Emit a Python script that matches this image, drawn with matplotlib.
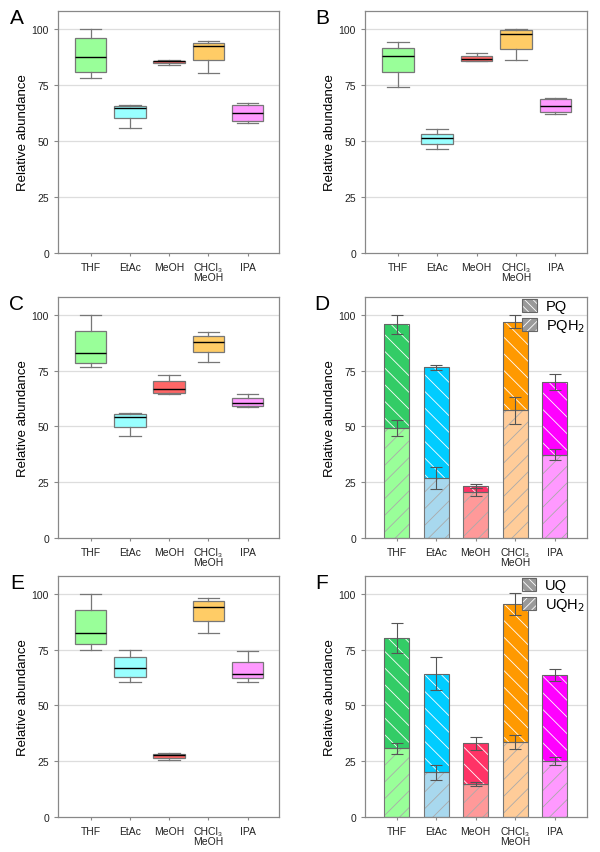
import matplotlib
matplotlib.use("Agg")
import matplotlib.pyplot as plt
from matplotlib.patches import Patch
import numpy as np

plt.rcParams['font.family'] = ['Liberation Sans', 'DejaVu Sans']
plt.rcParams['hatch.linewidth'] = 0.6

categories = ['THF', 'EtAc', 'MeOH', 'CHCl₃\nMeOH', 'IPA']
box_colors = ['#99FF99', '#99FFFF', '#FF6666', '#FFCC66', '#FF99FF']
dark_colors = ['#33CC66', '#00CCFF', '#FF3366', '#FF9900', '#FF00FF']
light_colors = ['#99FF99', '#A8D8EE', '#FF9999', '#FFCC99', '#FF99FF']

# box stats: whisker low, q1, median, q3, whisker high
A_whislo = [78.1, 55.8, 83.9, 80.2, 57.9]
A_q1 = [80.7, 60.3, 84.8, 86.2, 58.8]
A_med = [87.4, 64.6, 85.6, 92.3, 62.5]
A_q3 = [95.8, 65.5, 85.9, 93.6, 66.2]
A_whishi = [100.0, 66.2, 86.0, 94.8, 67.1]

B_whislo = [74.0, 46.3, 85.9, 86.0, 61.9]
B_q1 = [80.7, 48.5, 85.9, 91.1, 62.8]
B_med = [87.8, 51.2, 86.5, 97.8, 65.8]
B_q3 = [91.4, 53.1, 87.9, 99.3, 68.8]
B_whishi = [94.3, 55.2, 89.1, 100.0, 69.3]

C_whislo = [76.5, 45.8, 64.5, 78.7, 58.7]
C_q1 = [78.2, 49.6, 65.0, 83.2, 59.0]
C_med = [82.7, 54.1, 66.6, 87.9, 60.4]
C_q3 = [92.8, 55.4, 70.3, 90.3, 62.6]
C_whishi = [100.0, 55.9, 73.2, 92.5, 64.7]

E_whislo = [75.0, 60.7, 25.4, 82.6, 60.7]
E_q1 = [77.4, 62.9, 26.3, 87.9, 62.4]
E_med = [82.6, 66.8, 27.7, 94.3, 64.0]
E_q3 = [92.7, 71.7, 28.4, 96.7, 69.5]
E_whishi = [100.0, 75.0, 28.7, 98.2, 74.6]

# stacked bars: reduced (lower) and oxidized (upper)
D_PQH2 = [49.3, 26.8, 20.6, 57.2, 37.4]
D_PQH2_err = [3.5, 4.9, 1.9, 5.9, 2.5]
D_PQ = [46.5, 49.7, 2.6, 39.8, 32.5]
D_PQ_err = [4.3, 1.2, 0.8, 3.0, 3.5]

F_UQH2 = [30.8, 20.1, 14.9, 33.5, 25.0]
F_UQH2_err = [2.4, 3.4, 1.0, 3.1, 1.7]
F_UQ = [49.3, 44.2, 18.1, 62.0, 38.5]
F_UQ_err = [6.8, 7.5, 3.0, 4.8, 2.6]

yticks = [0, 25, 50, 75, 100]

fig = plt.figure(figsize=(6.0, 8.53), dpi=100)

W = 600.0
H = 853.0
def axes_at(l, t, r, b):
    return fig.add_axes([l / W, 1 - b / H, (r - l) / W, (b - t) / H])

def style(ax):
    ax.set_ylim(0, 108)
    ax.set_xlim(0.17, 5.8)
    ax.set_yticks(yticks)
    ax.set_xticks(range(1, 6))
    ax.set_xticklabels(categories, fontsize=7.5, color='#222222', linespacing=1.0)
    ax.tick_params(axis='y', labelsize=7.5, labelcolor='#222222', color='#888888', length=3, width=0.8)
    ax.tick_params(axis='x', color='#888888', length=2.5, width=0.8, pad=4)
    for s in ax.spines.values():
        s.set_color('#888888')
        s.set_linewidth(0.9)
    for v in [25, 50, 75, 100]:
        ax.axhline(v, color='#DDDDDD', lw=0.9, zorder=0)
    ax.set_ylabel('Relative abundance', fontsize=9.5, labelpad=2)

def boxpanel(ax, wl, q1, med, q3, wh):
    stats = []
    for i in range(5):
        stats.append(dict(whislo=wl[i], q1=q1[i], med=med[i], q3=q3[i], whishi=wh[i], fliers=[]))
    bp = ax.bxp(stats, positions=range(1, 6), widths=0.8, capwidths=0.55, patch_artist=True,
                showfliers=False,
                boxprops=dict(edgecolor='#777777', linewidth=0.9),
                whiskerprops=dict(color='#777777', linewidth=0.9),
                capprops=dict(color='#777777', linewidth=0.9),
                medianprops=dict(color='black', linewidth=1.0), zorder=2)
    for p, c in zip(bp['boxes'], box_colors):
        p.set_facecolor(c)
    style(ax)

def barpanel(ax, lower, lower_err, upper, upper_err, labels):
    x = np.arange(1, 6)
    w = 0.63
    ax.bar(x, lower, w, color=light_colors, edgecolor='#AAAAAA', hatch='//', linewidth=0, zorder=2)
    ax.bar(x, lower, w, fill=False, edgecolor='#777777', linewidth=0.8, zorder=3)
    ax.bar(x, upper, w, bottom=lower, color=dark_colors, edgecolor='#FFFFFF', hatch='\\\\', linewidth=0, zorder=2)
    ax.bar(x, upper, w, bottom=lower, fill=False, edgecolor='#666666', linewidth=0.8, zorder=3)
    tot = np.array(lower) + np.array(upper)
    ax.errorbar(x, lower, yerr=lower_err, fmt='none', ecolor='#555555', elinewidth=0.8, capsize=4, capthick=0.8, zorder=4)
    ax.errorbar(x, tot, yerr=upper_err, fmt='none', ecolor='#555555', elinewidth=0.8, capsize=4, capthick=0.8, zorder=4)
    style(ax)
    ax.set_xlim(0.2, 5.82)
    h1 = (Patch(facecolor='#999999', edgecolor='#FFFFFF', hatch='\\\\\\\\', linewidth=0),
          Patch(fill=False, edgecolor='#666666', linewidth=0.8))
    h2 = (Patch(facecolor='#999999', edgecolor='#FFFFFF', hatch='////', linewidth=0),
          Patch(fill=False, edgecolor='#666666', linewidth=0.8))
    ax.legend([h1, h2], labels, loc='upper right', frameon=False, fontsize=10.5,
              handlelength=1.0, handleheight=1.0, handletextpad=0.6, labelspacing=0.3,
              borderaxespad=0.2, bbox_to_anchor=(1.03, 1.03))

axA = axes_at(58, 12, 279, 254)
axB = axes_at(365, 12, 587, 254)
axC = axes_at(58, 298, 279, 539)
axD = axes_at(365, 298, 587, 539)
axE = axes_at(58, 577, 279, 818)
axF = axes_at(365, 577, 587, 818)

boxpanel(axA, A_whislo, A_q1, A_med, A_q3, A_whishi)
boxpanel(axB, B_whislo, B_q1, B_med, B_q3, B_whishi)
boxpanel(axC, C_whislo, C_q1, C_med, C_q3, C_whishi)
boxpanel(axE, E_whislo, E_q1, E_med, E_q3, E_whishi)
barpanel(axD, D_PQH2, D_PQH2_err, D_PQ, D_PQ_err, ['PQ', 'PQH$_2$'])
barpanel(axF, F_UQH2, F_UQH2_err, F_UQ, F_UQ_err, ['UQ', 'UQH$_2$'])

for lab, x, y in [('A', 17, 18), ('B', 322, 18), ('C', 17, 305), ('D', 322, 305), ('E', 17, 584), ('F', 322, 584)]:
    fig.text(x / W, 1 - y / H, lab, fontsize=15, ha='center', va='center')

fig.savefig('out.png', dpi=100)
